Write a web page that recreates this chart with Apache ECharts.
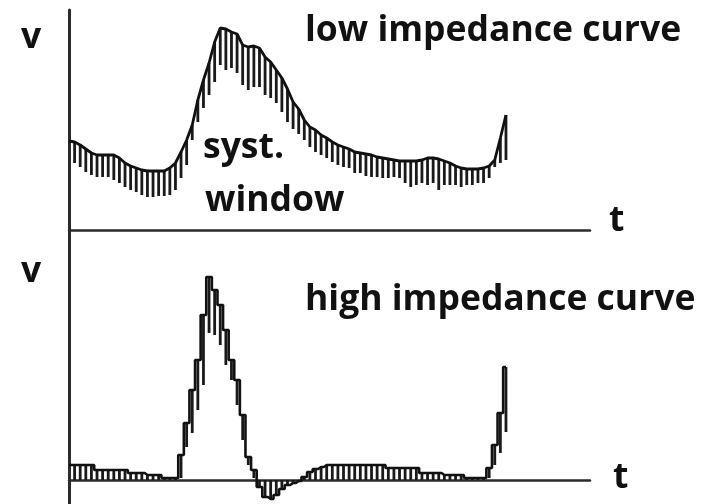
<!DOCTYPE html>
<html>
<head>
<meta charset="utf-8">
<script src="https://cdn.jsdelivr.net/npm/echarts@6/dist/echarts.min.js"></script>
<style>
html,body{margin:0;padding:0;background:#fff;}
#chart{width:701px;height:504px;}
</style>
</head>
<body>
<div id="chart"></div>
<script>
// Low impedance curve: upper envelope and lower end of each spectral line (arbitrary velocity units)
var lowStart = 89;
var lowTop = [88,85,81,77,75,75,75,75,72,67,64,62,60,59,59,59,59,62,67,78,
              90,105,130,150,167,188,202,201,198,196,185,183,184,182,173,168,160,152,141,128,
              121,110,103,100,95,92,88,85,83,81,78,77,76,75,73,72,71,70,69,69,
              69,69,70,72,72,71,69,67,64,62,61,61,61,62,64,70,92,115];
var lowBottom = [67,63,58,55,53,53,53,50,47,43,40,38,35,33,33,34,34,35,40,52,
                 65,90,108,122,135,148,165,160,162,157,145,140,143,143,135,132,127,118,108,101,
                 96,90,83,78,75,72,68,65,63,62,57,57,54,53,53,52,52,53,52,47,
                 43,45,47,45,47,40,45,45,45,43,45,45,47,47,52,63,67,70];

// High impedance curve: outer envelope and inner end of each spectral line
var highStart = 15;
var highEnv = [15,15,15,15,10,10,10,10,10,10,7,7,7,5,5,5,2,2,2,25,
               57,90,120,165,203,190,175,150,120,100,65,23,10,-7,-17,-19,-15,-9,-5,-3,
               -1,3,8,11,13,15,15,15,15,15,15,15,15,15,15,15,12,12,12,12,
               12,12,7,7,7,7,5,5,5,5,2,2,2,2,12,35,67,113];
var highInner = [0,0,0,0,0,0,0,0,0,0,0,0,0,0,0,0,0,0,0,2,
                 33,47,70,95,147,145,135,115,100,75,40,15,2,0,0,0,0,0,0,0,
                 0,0,0,0,0,0,0,0,0,0,0,0,0,0,0,0,0,0,0,0,
                 0,0,0,0,0,0,0,0,0,0,0,0,0,0,2,15,27,48];

var labels = {
  lowTitle: 'low impedance curve',
  highTitle: 'high impedance curve',
  syst: 'syst.',
  win: 'window',
  v: 'v',
  t: 't'
};

function hatchData(a, b){ return a.map(function(v,i){ return [i+1, v, b[i]]; }); }
function envData(start, a){ return [[0,start]].concat(a.map(function(v,i){ return [i+1, v]; })); }

var axisCol = '#2b2b2b';
var inkCol = '#111';

function renderHatch(params, api){
  var p1 = api.coord([api.value(0), api.value(1)]);
  var p2 = api.coord([api.value(0), api.value(2)]);
  return {type:'line', shape:{x1:p1[0], y1:p1[1], x2:p2[0], y2:p2[1]},
          style:{stroke:'#1a1a1a', lineWidth:2.8}};
}

var font = 'bold 35.5px "Open Sans"';
function txt(s, x, y){
  return {type:'text', x:x, y:y, style:{text:s, font:font, fill:'#111', verticalAlign:'middle', align:'left'}};
}

var chart = echarts.init(document.getElementById('chart'), null, {renderer:'canvas'});
chart.setOption({
  animation:false,
  backgroundColor:'#fff',
  grid:[
    {left:69, top:10, width:521, height:220},
    {left:69, top:230, width:521, height:274}
  ],
  xAxis:[
    {gridIndex:0, type:'value', min:0, max:93, axisLine:{lineStyle:{color:axisCol, width:2.5}}, axisTick:{show:false}, axisLabel:{show:false}, splitLine:{show:false}},
    {gridIndex:1, type:'value', min:0, max:93, axisLine:{onZero:true, lineStyle:{color:axisCol, width:2.5}}, axisTick:{show:false}, axisLabel:{show:false}, splitLine:{show:false}}
  ],
  yAxis:[
    {gridIndex:0, type:'value', min:0, max:220, axisLine:{show:true, lineStyle:{color:axisCol, width:3}}, axisTick:{show:false}, axisLabel:{show:false}, splitLine:{show:false}},
    {gridIndex:1, type:'value', min:-24, max:250, axisLine:{show:true, onZero:false, lineStyle:{color:axisCol, width:3}}, axisTick:{show:false}, axisLabel:{show:false}, splitLine:{show:false}}
  ],
  series:[
    {type:'custom', xAxisIndex:0, yAxisIndex:0, renderItem:renderHatch, data:hatchData(lowTop, lowBottom), encode:{x:0, y:[1,2]}, silent:true},
    {type:'line', xAxisIndex:0, yAxisIndex:0, data:envData(lowStart, lowTop), symbol:'none', lineStyle:{color:inkCol, width:2.8}, silent:true},
    {type:'custom', xAxisIndex:1, yAxisIndex:1, renderItem:renderHatch, data:hatchData(highEnv, highInner), encode:{x:0, y:[1,2]}, silent:true},
    {type:'line', xAxisIndex:1, yAxisIndex:1, step:'middle', data:envData(highStart, highEnv), symbol:'none', lineStyle:{color:inkCol, width:2.6}, silent:true}
  ],
  graphic:[
    txt(labels.v, 21, 38),
    txt(labels.v, 21, 272),
    txt(labels.lowTitle, 305, 31),
    txt(labels.highTitle, 305, 300),
    txt(labels.syst, 203, 148),
    txt(labels.win, 205, 201),
    txt(labels.t, 609, 221),
    txt(labels.t, 613, 478)
  ]
});
</script>
</body>
</html>
